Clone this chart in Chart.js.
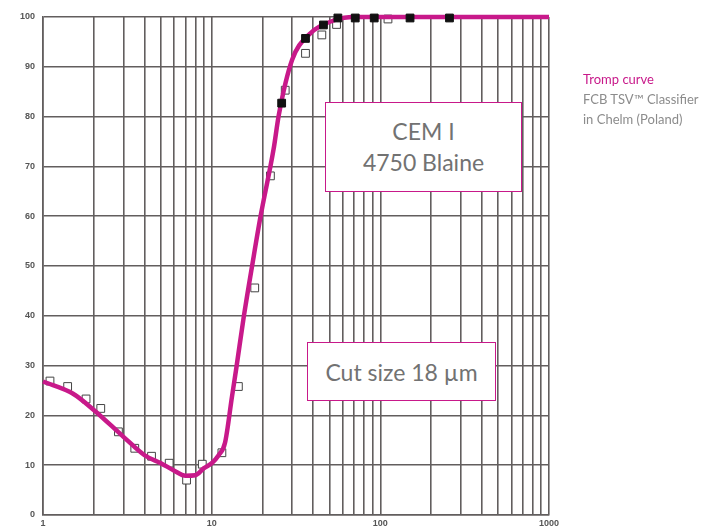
<!DOCTYPE html>
<html lang="en">
<head>
    <meta charset="UTF-8">
    <title>Tromp curve</title>
    <script src="https://cdn.jsdelivr.net/npm/chart.js"></script>
    <style>
        body {
            margin: 0;
            background: #fff;
        }
        #wrap {
            position: relative;
            width: 719px;
            height: 532px;
        }
        .box {
            position: absolute;
            background: #fff;
            border: 1px solid #c8198a;
            box-sizing: border-box;
            color: #727272;
            font-family: Lato, sans-serif;
            font-size: 23px;
            text-align: center;
            display: flex;
            flex-direction: column;
            justify-content: center;
        }
        #note {
            position: absolute;
            left: 583px;
            top: 69px;
            font-family: Lato, sans-serif;
            font-size: 13px;
            line-height: 20px;
            color: #8c8c8c;
        }
        #note .title {
            color: #c8198a;
        }
    </style>
</head>
<body>

<div id="wrap">
    <canvas id="tromp" width="719" height="532"></canvas>
    <div class="box" style="left:325px; top:102px; width:197px; height:90px; line-height:31px;">
        <div>CEM I</div>
        <div>4750 Blaine</div>
    </div>
    <div class="box" style="left:307px; top:342px; width:189px; height:59px;">
        <div>Cut size 18 µm</div>
    </div>
    <div id="note">
        <div class="title">Tromp curve</div>
        <div>FCB TSV™ Classifier</div>
        <div>in Chelm (Poland)</div>
    </div>
</div>

<script>
    // fitted curve (particle size in µm, %)
    const curveX = [1, 1.5, 2, 3, 4, 5, 6, 7, 8, 9, 10, 11, 12, 13.2, 14, 15.5, 17.5, 19.5, 23.3, 25, 30, 37.6, 54, 70, 1000];
    const curveY = [26.8, 24.4, 21.1, 15.7, 12.0, 10.4, 8.9, 7.9, 8.0, 9.4, 10.4, 12.0, 14.5, 23.8, 29.5, 39.8, 50.7, 60, 73.5, 80.3, 91.4, 96.4, 99.4, 100, 100];

    // measured points, open squares
    const openX = [1.1, 1.4, 1.8, 2.2, 2.8, 3.5, 4.4, 5.6, 7.1, 8.8, 11.5, 14.4, 18, 22.3, 27.3, 36, 45, 55, 111];
    const openY = [26.9, 25.8, 23.3, 21.4, 16.7, 13.4, 11.8, 10.4, 7.0, 10.2, 12.5, 25.8, 45.6, 68.1, 85.3, 92.7, 96.4, 98.5, 99.6];

    // measured points, filled squares
    const filledX = [26, 36, 46, 56, 71, 92, 150, 257];
    const filledY = [82.7, 95.7, 98.4, 99.8, 99.8, 99.8, 99.8, 99.8];

    // axis grid and labels
    const xGrid = [1, 2, 3, 4, 5, 6, 7, 8, 9, 10, 20, 30, 40, 50, 60, 70, 80, 90, 100, 200, 300, 400, 500, 600, 700, 800, 900, 1000];
    const xLabels = [1, 10, 100, 1000];
    const yTicks = [0, 10, 20, 30, 40, 50, 60, 70, 80, 90, 100];

    const toPoints = (xs, ys) => xs.map((x, i) => ({ x: x, y: ys[i] }));

    const ctx = document.getElementById('tromp').getContext('2d');
    new Chart(ctx, {
        type: 'scatter',
        data: {
            datasets: [{
                label: 'Tromp curve',
                data: toPoints(curveX, curveY),
                showLine: true,
                clip: false,
                borderColor: '#c8198a',
                borderWidth: 4.5,
                pointRadius: 0,
                cubicInterpolationMode: 'monotone',
                order: 1
            }, {
                label: 'open',
                data: toPoints(openX, openY),
                clip: false,
                pointStyle: 'rect',
                pointRadius: 5.5,
                backgroundColor: '#fff',
                borderColor: '#444',
                borderWidth: 1,
                order: 2
            }, {
                // black squares sit on top of the curve
                label: 'filled',
                data: toPoints(filledX, filledY),
                clip: false,
                pointStyle: 'rect',
                pointRadius: 5.5,
                backgroundColor: '#111',
                borderColor: '#111',
                borderWidth: 1,
                order: 0
            }]
        },
        options: {
            responsive: false,
            animation: false,
            layout: {
                padding: { top: 17, right: 170, bottom: 0, left: 0 }
            },
            scales: {
                x: {
                    type: 'logarithmic',
                    min: 1,
                    max: 1000,
                    afterBuildTicks: scale => {
                        scale.ticks = xGrid.map(v => ({ value: v }));
                    },
                    afterFit: scale => {
                        scale.height = 17;
                    },
                    grid: {
                        color: '#625e5e',
                        lineWidth: 1.6,
                        drawTicks: false
                    },
                    border: { color: '#625e5e', width: 1.6 },
                    ticks: {
                        autoSkip: false,
                        maxRotation: 0,
                        padding: 3,
                        color: '#555',
                        font: { family: 'Liberation Sans', size: 9, weight: 'bold' },
                        callback: value => xLabels.includes(value) ? String(value) : ''
                    }
                },
                y: {
                    min: 0,
                    max: 100,
                    afterBuildTicks: scale => {
                        scale.ticks = yTicks.map(v => ({ value: v }));
                    },
                    afterFit: scale => {
                        scale.width = 43;
                    },
                    grid: {
                        color: '#625e5e',
                        lineWidth: 1.6,
                        drawTicks: false
                    },
                    border: { color: '#625e5e', width: 1.6 },
                    ticks: {
                        padding: 8,
                        color: '#555',
                        font: { family: 'Liberation Sans', size: 9, weight: 'bold' }
                    }
                }
            },
            plugins: {
                legend: { display: false },
                tooltip: { enabled: false }
            }
        }
    });
</script>

</body>
</html>
